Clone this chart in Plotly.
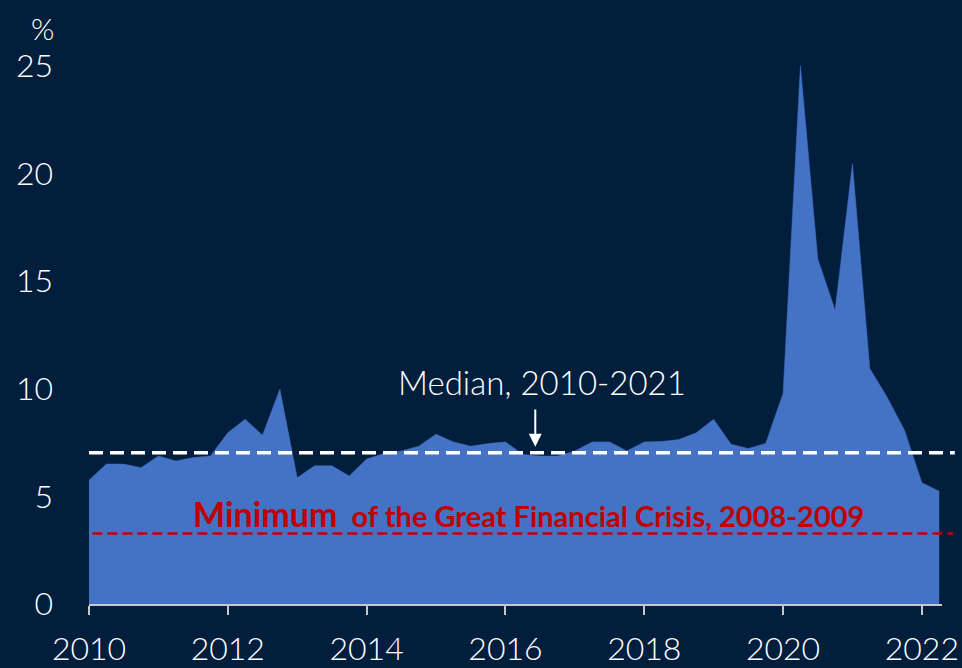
import plotly.graph_objects as go

# Quarterly data, 2010Q1 - 2022Q2
start_year = 2010
values = [5.75, 6.5, 6.5, 6.33, 6.88, 6.64, 6.8, 6.88,
          7.95, 8.58, 7.84, 9.98, 5.86, 6.42, 6.42, 5.94,
          6.73, 6.99, 7.11, 7.33, 7.89, 7.53, 7.33, 7.45,
          7.53, 6.94, 6.87, 6.87, 7.11, 7.53, 7.53, 7.11,
          7.53, 7.55, 7.64, 7.95, 8.58, 7.42, 7.22, 7.46,
          9.78, 25.0, 16.04, 13.64, 20.45, 10.94, 9.6, 8.07,
          5.63, 5.24]
dates = [start_year + i * 0.25 for i in range(len(values))]

median_value = 7.02
gfc_min_value = 3.28
x_ticks = [2010, 2012, 2014, 2016, 2018, 2020, 2022]
y_ticks = [0, 5, 10, 15, 20, 25]

bg = "#021e3d"
fig = go.Figure()
fig.add_trace(go.Scatter(x=dates, y=values, mode="lines", fill="tozeroy",
                         line=dict(color="#4472c4", width=0.5),
                         fillcolor="#4472c4", hoverinfo="skip", showlegend=False))

fig.add_shape(type="line", xref="paper", yref="y", x0=0.0, x1=1.015,
              y0=median_value, y1=median_value,
              line=dict(color="white", width=3.5, dash="14px,7px"))
fig.add_shape(type="line", xref="paper", yref="y", x0=0.004, x1=1.013,
              y0=gfc_min_value, y1=gfc_min_value,
              line=dict(color="#c00000", width=2.5, dash="10px,5px"))

fig.add_annotation(x=2016.43, y=7.3, ax=2016.43, ay=9.1,
                   xref="x", yref="y", axref="x", ayref="y", text="",
                   showarrow=True, arrowhead=2, arrowsize=1.3, arrowwidth=2,
                   arrowcolor="white")
fig.add_annotation(x=2016.52, y=10.3, xref="x", yref="y", text="Median, 2010-2021",
                   showarrow=False,
                   font=dict(family="Lato", size=33, color="white", weight=300))
fig.add_annotation(x=2016.33, y=4.2, xref="x", yref="y",
                   text="<b><span style='font-size:34px'>Minimum</span>&nbsp; of the Great Financial Crisis, 2008-2009</b>",
                   showarrow=False, font=dict(family="Lato", size=29, color="#c00000"))
fig.add_annotation(x=-0.055, y=1.049, xref="paper", yref="paper", text="%",
                   xanchor="center", yanchor="middle", showarrow=False,
                   font=dict(family="Lato", size=30, color="white", weight=300))

fig.update_layout(
    width=962, height=668, paper_bgcolor=bg, plot_bgcolor=bg,
    margin=dict(l=89, r=20, t=55, b=64, autoexpand=False),
    font=dict(family="Lato", color="white", size=26, weight=300),
    xaxis=dict(range=[2010, 2022.29], tickvals=x_ticks, ticktext=[str(t) for t in x_ticks],
               showgrid=False, zeroline=False, showline=True, linecolor="#c8c8c8",
               linewidth=2, ticks="outside", ticklen=9, tickcolor="#c8c8c8", tickwidth=2,
               ticklabelstandoff=7, automargin=False,
               tickfont=dict(family="Lato", size=32, color="white", weight=300)),
    yaxis=dict(range=[0, 25.5], tickvals=y_ticks, showgrid=False, zeroline=False,
               showline=False, ticks="", ticklabelstandoff=35, automargin=False,
               tickfont=dict(family="Lato", size=32, color="white", weight=300)),
)
fig.write_html("out.html", config={"displayModeBar": False},
               post_script="document.body.style.margin='0';document.body.style.background='%s';" % bg)
